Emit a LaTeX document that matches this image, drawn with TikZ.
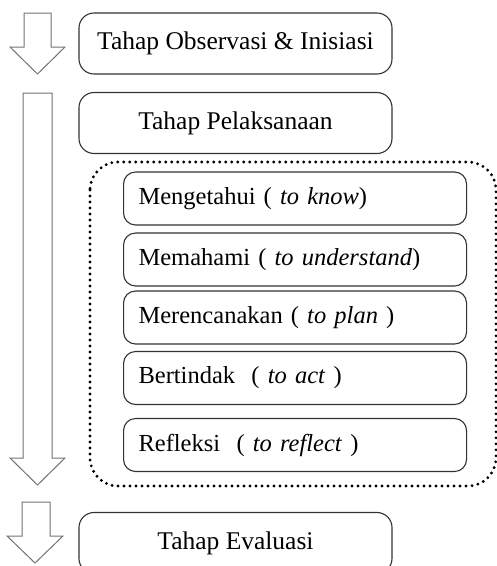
\documentclass[tikz,border=0pt]{standalone}
\usepackage{fontspec}
\setmainfont{Liberation Serif}
\usetikzlibrary{
	positioning,
	calc
}
\tikzset{
	stagebox/.style={draw=black!80, line width=1.1pt, rounded corners=15pt, fill=white,
		minimum width=313pt, minimum height=61pt, font=\fontsize{25.5}{29}\selectfont},
	stepbox/.style={draw=black!80, line width=1.1pt, rounded corners=12pt, fill=white,
		text width=313pt, inner xsep=15pt, minimum height=53pt, align=left, anchor=west,
		font=\fontsize{24.5}{28}\selectfont},
	groupline/.style={line width=3.2pt, line cap=round, dash pattern=on 0pt off 6pt, rounded corners=28pt},
	flowarrow/.style={draw=black!55, line width=1pt, fill=white, line join=miter}
}
\begin{document}
\begin{tikzpicture}[x=1pt,y=-1pt]
		\useasboundingbox (0,0) rectangle (497,566);
		\clip (0,0) rectangle (497,566);
		% arrows
		\draw[flowarrow] (24,13) -- (51,13) -- (51,47) -- (65,47) -- (37.5,74) -- (10,47) -- (24,47) -- cycle;
		\draw[flowarrow] (23,93) -- (52,93) -- (52,458) -- (65,458) -- (37.5,485) -- (10,458) -- (23,458) -- cycle;
		\draw[flowarrow] (22,502) -- (50,502) -- (50,536) -- (63,536) -- (35,563) -- (7,536) -- (22,536) -- cycle;
		% stages
		\node[stagebox] (observasi) at (235.5,43.5) {Tahap Observasi \& Inisiasi};
		\node[stagebox] (pelaksanaan) at (235.5,123) {Tahap Pelaksanaan};
		\node[stagebox] (evaluasi) at (235.5,543) {Tahap Evaluasi};
		% steps
		\draw[groupline] (90,162) rectangle (496,486);
		\node[stepbox] (know) at (123,198.5) {Mengetahui ( \textit{to know})};
		\node[stepbox] (understand) at (123,259.5) {Memahami ( \textit{to understand})};
		\node[stepbox] (plan) at (123,317.5) {Merencanakan ( \textit{to plan} )};
		\node[stepbox] (act) at (123,378) {Bertindak ~( \textit{to act} )};
		\node[stepbox] (reflect) at (123,445) {Refleksi ~( \textit{to reflect} )};
	\end{tikzpicture}
\end{document}
